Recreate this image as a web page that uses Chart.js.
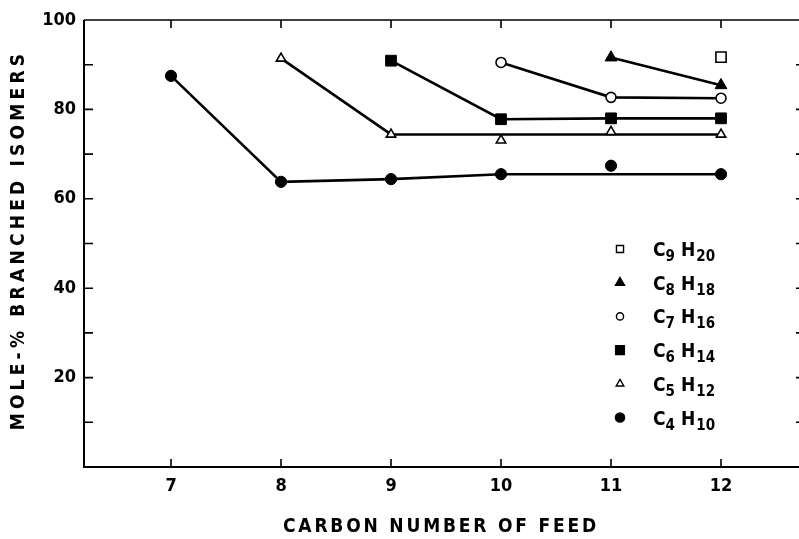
<!DOCTYPE html>
<html>
<head>
<meta charset="utf-8">
<script src="https://cdn.jsdelivr.net/npm/chart.js@4.4.1/dist/chart.umd.min.js"></script>
<style>
  html, body { margin: 0; padding: 0; background: #fff; }
  canvas { display: block; }
</style>
</head>
<body>
<canvas id="isomer-chart" width="799" height="539"></canvas>
<script>
// carbon number of the feed and the axis ticks
const feedCarbon = [7, 8, 9, 10, 11, 12];
const xTicks = [7, 8, 9, 10, 11, 12];
const yTicks = [0, 10, 20, 30, 40, 50, 60, 70, 80, 90, 100];
const yLabels = [20, 40, 60, 80, 100];

// mole-% branched isomers of each product, per feed carbon number
const c4h10 = [87.5, 63.8, 64.4, 65.5, 67.4, 65.5];
const c5h12 = [null, 91.4, 74.4, 73.1, 75.0, 74.4];
const c6h14 = [null, null, 90.9, 77.8, 78.0, 78.0];
const c7h16 = [null, null, null, 90.5, 82.7, 82.5];
const c8h18 = [null, null, null, null, 91.6, 85.4];
const c9h20 = [null, null, null, null, null, 91.7];

// feed carbon numbers whose point is not joined by the line
const c4h10Off = [11];
const c5h12Off = [10, 11];

const FONT = '"DejaVu Sans Condensed", "DejaVu Sans", sans-serif';

// legend order, top to bottom
const products = [
  { c: '9', h: '20', values: c9h20, off: [], style: 'rect', filled: false, r: 7.2, lr: 5 },
  { c: '8', h: '18', values: c8h18, off: [], style: 'triangle', filled: true, r: 6.8, lr: 5.2 },
  { c: '7', h: '16', values: c7h16, off: [], style: 'circle', filled: false, r: 5, lr: 3.6 },
  { c: '6', h: '14', values: c6h14, off: [], style: 'rect', filled: true, r: 7.6, lr: 6.2 },
  { c: '5', h: '12', values: c5h12, off: c5h12Off, style: 'triangle', filled: false, r: 5.4, lr: 4.4 },
  { c: '4', h: '10', values: c4h10, off: c4h10Off, style: 'circle', filled: true, r: 5.6, lr: 4.6 }
];

function pointOpts(p) {
  return {
    pointStyle: p.style,
    pointRadius: p.r,
    pointBackgroundColor: p.filled ? '#000' : '#fff',
    pointBorderColor: '#000',
    pointBorderWidth: p.filled ? 1 : 1.6
  };
}

const datasets = [];
products.forEach(p => {
  const joined = [];
  const loose = [];
  feedCarbon.forEach((x, i) => {
    if (p.values[i] === null) return;
    if (p.off.includes(x)) loose.push({ x: x, y: p.values[i] });
    else joined.push({ x: x, y: p.values[i] });
  });
  datasets.push(Object.assign({
    data: joined,
    showLine: true,
    borderColor: '#000',
    borderWidth: 2.6,
    order: 2
  }, pointOpts(p)));
  if (loose.length) {
    datasets.push(Object.assign({ data: loose, showLine: false, order: 1 }, pointOpts(p)));
  }
});

// frame, inward ticks, axis titles and the formula legend
const decorations = {
  id: 'decorations',
  afterDraw(chart) {
    const ctx = chart.ctx;
    const a = chart.chartArea;
    const xs = chart.scales.x;
    const ys = chart.scales.y;
    ctx.save();
    ctx.strokeStyle = '#000';
    ctx.lineCap = 'butt';

    ctx.lineWidth = 2;
    ctx.beginPath();
    ctx.moveTo(a.left, a.top);
    ctx.lineTo(a.left, a.bottom);
    ctx.lineTo(a.right, a.bottom);
    ctx.stroke();
    ctx.lineWidth = 1.6;
    ctx.beginPath();
    ctx.moveTo(a.left, a.top);
    ctx.lineTo(a.right, a.top);
    ctx.stroke();

    ctx.lineWidth = 1.6;
    xTicks.forEach(v => {
      const px = xs.getPixelForValue(v);
      ctx.beginPath();
      ctx.moveTo(px, a.bottom); ctx.lineTo(px, a.bottom - 8);
      ctx.moveTo(px, a.top); ctx.lineTo(px, a.top + 8);
      ctx.stroke();
    });
    yTicks.forEach(v => {
      if (v === 0 || v === 100) return;
      const py = ys.getPixelForValue(v);
      ctx.beginPath();
      ctx.moveTo(a.left, py); ctx.lineTo(a.left + 9, py);
      ctx.moveTo(a.right, py); ctx.lineTo(a.right - 3, py);
      ctx.stroke();
    });

    // axis titles
    ctx.fillStyle = '#000';
    ctx.font = 'bold 19px ' + FONT;
    ctx.letterSpacing = '2.8px';
    ctx.textAlign = 'center';
    ctx.textBaseline = 'middle';
    ctx.fillText('CARBON NUMBER OF FEED', 441, 527);
    ctx.save();
    ctx.translate(19, 240);
    ctx.rotate(-Math.PI / 2);
    ctx.letterSpacing = '4.2px';
    ctx.fillText('MOLE-% BRANCHED ISOMERS', 0, 0);
    ctx.restore();
    ctx.letterSpacing = '0px';

    // legend
    ctx.textAlign = 'left';
    ctx.textBaseline = 'alphabetic';
    products.forEach((p, i) => {
      const cy = 249 + i * 33.7;
      ctx.fillStyle = p.filled ? '#000' : '#fff';
      ctx.strokeStyle = '#000';
      ctx.lineWidth = 1.4;
      Chart.helpers.drawPoint(ctx, { pointStyle: p.style, radius: p.lr, rotation: 0, borderWidth: 1.4 }, 620, cy);
      ctx.fillStyle = '#000';
      let x = 653;
      const base = cy + 7;
      ctx.font = 'bold 19px ' + FONT;
      ctx.fillText('C', x, base);
      x += ctx.measureText('C').width;
      ctx.font = 'bold 15px ' + FONT;
      ctx.fillText(p.c, x, base + 5);
      x += ctx.measureText(p.c).width + 6;
      ctx.font = 'bold 19px ' + FONT;
      ctx.fillText('H', x, base);
      x += ctx.measureText('H').width + 1;
      ctx.font = 'bold 15px ' + FONT;
      ctx.fillText(p.h, x, base + 5);
    });
    ctx.restore();
  }
};

new Chart(document.getElementById('isomer-chart').getContext('2d'), {
  type: 'scatter',
  data: { datasets: datasets },
  options: {
    responsive: false,
    animation: false,
    devicePixelRatio: 1,
    layout: { autoPadding: false, padding: { top: 20, right: 0, left: 0, bottom: 0 } },
    plugins: { legend: { display: false }, tooltip: { enabled: false } },
    scales: {
      x: {
        type: 'linear',
        min: 6.209,
        max: 12.709,
        afterBuildTicks: s => { s.ticks = xTicks.map(v => ({ value: v })); },
        afterFit: s => { s.height = 72; s.paddingLeft = 0; s.paddingRight = 0; },
        grid: { display: false, drawTicks: false },
        border: { display: false },
        ticks: {
          color: '#000',
          padding: 9,
          font: { family: FONT, size: 18, weight: 'bold' },
          callback: v => String(v)
        }
      },
      y: {
        type: 'linear',
        min: 0,
        max: 100,
        afterBuildTicks: s => { s.ticks = yTicks.map(v => ({ value: v })); },
        afterFit: s => { s.width = 84; s.paddingTop = 0; s.paddingBottom = 0; },
        grid: { display: false, drawTicks: false },
        border: { display: false },
        ticks: {
          color: '#000',
          padding: 8,
          font: { family: FONT, size: 18, weight: 'bold' },
          callback: v => (yLabels.includes(v) ? String(v) : '')
        }
      }
    }
  },
  plugins: [decorations]
});
</script>
</body>
</html>
